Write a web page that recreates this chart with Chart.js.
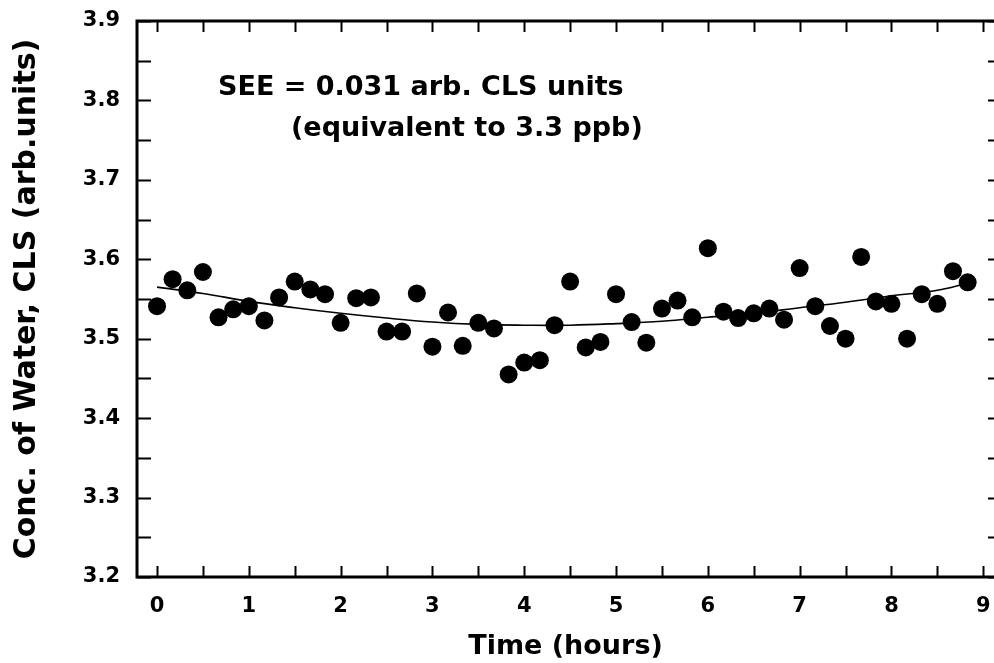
<!DOCTYPE html>
<html>
<head>
<meta charset="utf-8">
<script src="https://cdn.jsdelivr.net/npm/chart.js@4/dist/chart.umd.min.js"></script>
<style>
  html, body { margin: 0; padding: 0; background: #fff; }
  #wrap { width: 994px; height: 663px; position: relative; }
</style>
</head>
<body>
<div id="wrap"><canvas id="c" width="994" height="663"></canvas></div>
<script>
// ---- data ----
const timeHours = [0.00, 0.17, 0.33, 0.50, 0.67, 0.83, 1.00, 1.17, 1.33, 1.50,
                   1.67, 1.83, 2.00, 2.17, 2.33, 2.50, 2.67, 2.83, 3.00, 3.17,
                   3.33, 3.50, 3.67, 3.83, 4.00, 4.17, 4.33, 4.50, 4.67, 4.83,
                   5.00, 5.17, 5.33, 5.50, 5.67, 5.83, 6.00, 6.17, 6.33, 6.50,
                   6.67, 6.83, 7.00, 7.17, 7.33, 7.50, 7.67, 7.83, 8.00, 8.17,
                   8.33, 8.50, 8.67, 8.83];
const waterConc = [3.541, 3.575, 3.561, 3.584, 3.527, 3.537, 3.541, 3.523, 3.552, 3.572,
                   3.562, 3.556, 3.520, 3.551, 3.552, 3.509, 3.509, 3.557, 3.490, 3.533,
                   3.491, 3.520, 3.513, 3.455, 3.470, 3.473, 3.517, 3.572, 3.489, 3.496,
                   3.556, 3.521, 3.495, 3.538, 3.548, 3.527, 3.614, 3.534, 3.526, 3.532,
                   3.538, 3.524, 3.589, 3.541, 3.516, 3.500, 3.603, 3.547, 3.544, 3.500,
                   3.556, 3.544, 3.585, 3.571];
// fitted curve, read at several points along it
const fitTime  = [0.0, 0.5, 1.0, 1.5, 2.0, 2.5, 3.0, 3.5, 4.0, 4.5, 5.0, 5.5, 6.0, 6.5, 7.0, 7.5, 8.0, 8.5, 8.83];
const fitConc  = [3.565, 3.557, 3.547, 3.539, 3.532, 3.526, 3.521, 3.518, 3.517, 3.517, 3.519, 3.522, 3.527, 3.532, 3.539, 3.546, 3.554, 3.561, 3.570];
const xTickLabels = ['0', '1', '2', '3', '4', '5', '6', '7', '8', '9'];
const yTickLabels = ['3.2', '3.3', '3.4', '3.5', '3.6', '3.7', '3.8', '3.9'];
const annotationLines = ['SEE = 0.031 arb. CLS units', '(equivalent to 3.3 ppb)'];
const xTitle = 'Time (hours)';
const yTitle = 'Conc. of Water, CLS (arb.units)';

const FONT = '"DejaVu Sans", "Liberation Sans", Arial, sans-serif';

const framePlugin = {
  id: 'framePlugin',
  beforeDraw(chart) {
    const {ctx, width, height} = chart;
    ctx.save();
    ctx.fillStyle = '#fff';
    ctx.fillRect(0, 0, width, height);
    ctx.restore();
  },
  afterDraw(chart) {
    const {ctx, chartArea: a, scales} = chart;
    ctx.save();
    ctx.strokeStyle = '#000';
    ctx.lineCap = 'butt';
    // tick marks (inward)
    ctx.lineWidth = 2;
    ctx.beginPath();
    scales.x.ticks.forEach(t => {
      const px = Math.round(scales.x.getPixelForValue(t.value)) + 0.5;
      ctx.moveTo(px, a.bottom); ctx.lineTo(px, a.bottom - 11);
      ctx.moveTo(px, a.top); ctx.lineTo(px, a.top + 11);
    });
    scales.y.ticks.forEach(t => {
      const py = Math.round(scales.y.getPixelForValue(t.value)) + 0.5;
      ctx.moveTo(a.left, py); ctx.lineTo(a.left + 14, py);
      ctx.moveTo(a.right, py); ctx.lineTo(a.right - 6, py);
    });
    ctx.stroke();
    // frame: left, bottom, top
    ctx.lineWidth = 3;
    ctx.beginPath();
    ctx.moveTo(a.right + 2, a.top);
    ctx.lineTo(a.left, a.top);
    ctx.lineTo(a.left, a.bottom);
    ctx.lineTo(a.right + 2, a.bottom);
    ctx.stroke();
    // annotation text
    ctx.fillStyle = '#000';
    ctx.font = 'bold 27px ' + FONT;
    ctx.textBaseline = 'alphabetic';
    ctx.textAlign = 'left';
    ctx.fillText(annotationLines[0], 218, 95);
    ctx.fillText(annotationLines[1], 291, 136);
    ctx.restore();
  }
};

new Chart(document.getElementById('c'), {
  type: 'scatter',
  data: {
    datasets: [
      {
        label: 'data',
        data: timeHours.map((t, i) => ({x: t, y: waterConc[i]})),
        pointRadius: 9,
        pointHoverRadius: 9,
        pointBackgroundColor: '#000',
        pointBorderWidth: 0,
        borderColor: '#000',
        order: 1
      },
      {
        label: 'fit',
        type: 'line',
        data: fitTime.map((t, i) => ({x: t, y: fitConc[i]})),
        showLine: true,
        borderColor: '#000',
        borderWidth: 1.6,
        pointRadius: 0,
        tension: 0.4,
        fill: false,
        order: 2
      }
    ]
  },
  options: {
    responsive: false,
    animation: false,
    devicePixelRatio: 1,
    layout: { autoPadding: false, padding: { top: 21, right: 0, left: 0, bottom: 0 } },
    plugins: { legend: { display: false }, tooltip: { enabled: false } },
    scales: {
      x: {
        type: 'linear',
        min: -0.218,
        max: 9.117,
        grid: { display: false },
        border: { display: false },
        ticks: {
          stepSize: 0.5,
          includeBounds: false,
          autoSkip: false,
          maxRotation: 0,
          padding: 9,
          color: '#000',
          font: { family: FONT, size: 21, weight: 'bold' },
          callback: v => {
            const i = xTickLabels.indexOf(String(v));
            return Math.abs(v - Math.round(v)) < 1e-6 && i >= 0 ? xTickLabels[i] : '';
          }
        },
        title: {
          display: true,
          text: xTitle,
          color: '#000',
          font: { family: FONT, size: 27, weight: 'bold' },
          padding: { top: 0, bottom: 0 }
        },
        afterFit: s => { s.height = 86; s.paddingLeft = 0; s.paddingRight = 0; }
      },
      y: {
        type: 'linear',
        min: 3.2,
        max: 3.9,
        grid: { display: false },
        border: { display: false },
        ticks: {
          stepSize: 0.05,
          includeBounds: false,
          autoSkip: false,
          padding: 9,
          color: '#000',
          font: { family: FONT, size: 21, weight: 'bold' },
          callback: v => {
            const s = v.toFixed(1);
            return Math.abs(v * 10 - Math.round(v * 10)) < 1e-6 && yTickLabels.includes(s) ? s : '';
          }
        },
        title: {
          display: true,
          text: yTitle,
          color: '#000',
          font: { family: FONT, size: 30, weight: 'bold' },
          padding: { top: 9, bottom: 0 }
        },
        afterFit: s => { s.width = 137; s.paddingTop = 0; s.paddingBottom = 0; }
      }
    }
  },
  plugins: [framePlugin]
});
</script>
</body>
</html>
